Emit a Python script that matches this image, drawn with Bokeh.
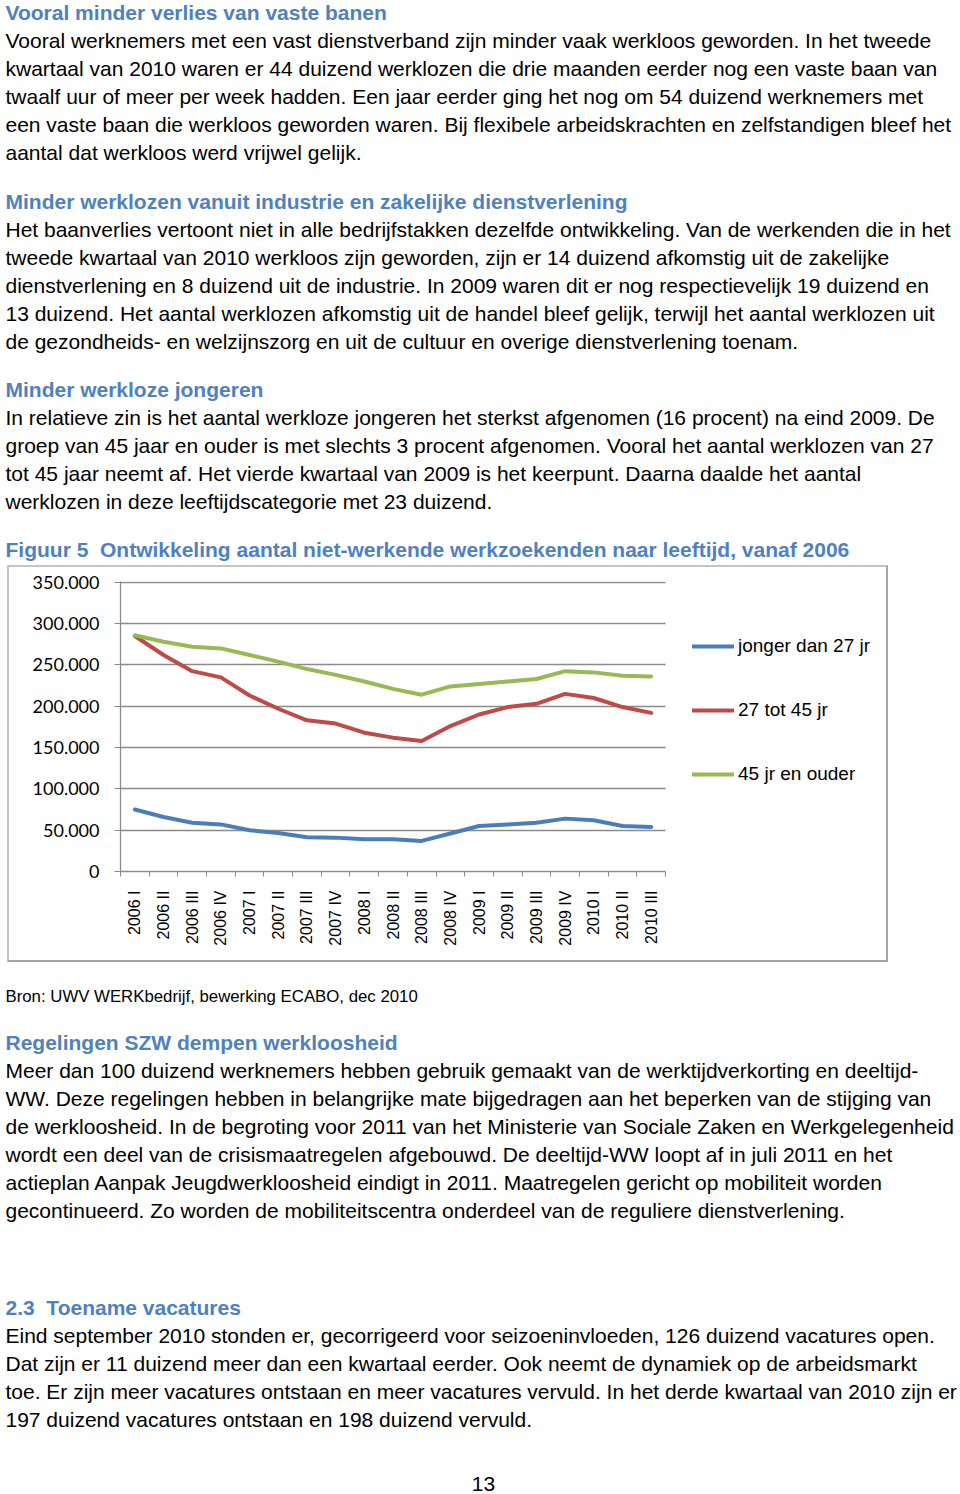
import math
from bokeh.plotting import figure
from bokeh.models import Range1d, FixedTicker, Legend, ColumnDataSource
from bokeh.layouts import column
from bokeh.core.properties import value
from bokeh.embed import file_html
from bokeh.resources import INLINE

# ---------------- chart data ----------------
quarters = ["2006 I", "2006 II", "2006 III", "2006 IV",
            "2007 I", "2007 II", "2007 III", "2007 IV",
            "2008 I", "2008 II", "2008 III", "2008 IV",
            "2009 I", "2009 II", "2009 III", "2009 IV",
            "2010 I", "2010 II", "2010 III"]
jonger_dan_27 = [75000, 66000, 59000, 57000, 50000, 46500, 41500, 41000, 39000,
                 39000, 37000, 46000, 55000, 57000, 59000, 64000, 62000, 55000, 54000]
van_27_tot_45 = [285000, 262000, 242500, 235000, 213000, 197000, 183000, 179000, 168000,
                 162000, 158000, 176000, 190000, 199000, 203000, 215000, 210000, 199000, 192000]
vanaf_45 = [286000, 278000, 272000, 270000, 262000, 254000, 245000, 238000, 230000,
            221000, 214000, 224000, 227000, 230000, 233000, 242500, 241000, 237000, 236000]
series_names = ["jonger dan 27 jr", "27 tot 45 jr", "45 jr en ouder"]
series_colors = ["#4A7EBB", "#BE4B48", "#98B954"]
y_ticks = [0, 50000, 100000, 150000, 200000, 250000, 300000, 350000]

# ---------------- page text ----------------
BLUE = "#4F81BD"
top_text = [
    ("h", 12, "Vooral minder verlies van vaste banen"),
    ("b", 40, "Vooral werknemers met een vast dienstverband zijn minder vaak werkloos geworden. In het tweede"),
    ("b", 68, "kwartaal van 2010 waren er 44 duizend werklozen die drie maanden eerder nog een vaste baan van"),
    ("b", 96, "twaalf uur of meer per week hadden. Een jaar eerder ging het nog om 54 duizend werknemers met"),
    ("b", 124, "een vaste baan die werkloos geworden waren. Bij flexibele arbeidskrachten en zelfstandigen bleef het"),
    ("b", 152, "aantal dat werkloos werd vrijwel gelijk."),
    ("h", 201, "Minder werklozen vanuit industrie en zakelijke dienstverlening"),
    ("b", 229, "Het baanverlies vertoont niet in alle bedrijfstakken dezelfde ontwikkeling. Van de werkenden die in het"),
    ("b", 257, "tweede kwartaal van 2010 werkloos zijn geworden, zijn er 14 duizend afkomstig uit de zakelijke"),
    ("b", 285, "dienstverlening en 8 duizend uit de industrie. In 2009 waren dit er nog respectievelijk 19 duizend en"),
    ("b", 313, "13 duizend. Het aantal werklozen afkomstig uit de handel bleef gelijk, terwijl het aantal werklozen uit"),
    ("b", 341, "de gezondheids- en welzijnszorg en uit de cultuur en overige dienstverlening toenam."),
    ("h", 389, "Minder werkloze jongeren"),
    ("b", 417, "In relatieve zin is het aantal werkloze jongeren het sterkst afgenomen (16 procent) na eind 2009. De"),
    ("b", 445, "groep van 45 jaar en ouder is met slechts 3 procent afgenomen. Vooral het aantal werklozen van 27"),
    ("b", 473, "tot 45 jaar neemt af. Het vierde kwartaal van 2009 is het keerpunt. Daarna daalde het aantal"),
    ("b", 501, "werklozen in deze leeftijdscategorie met 23 duizend."),
    ("h", 549, "Figuur 5\u00a0 Ontwikkeling aantal niet-werkende werkzoekenden naar leeftijd, vanaf 2006"),
]
bottom_text = [
    ("s", 996, "Bron: UWV WERKbedrijf, bewerking ECABO, dec 2010"),
    ("h", 1042, "Regelingen SZW dempen werkloosheid"),
    ("b", 1070, "Meer dan 100 duizend werknemers hebben gebruik gemaakt van de werktijdverkorting en deeltijd-"),
    ("b", 1098, "WW. Deze regelingen hebben in belangrijke mate bijgedragen aan het beperken van de stijging van"),
    ("b", 1126, "de werkloosheid. In de begroting voor 2011 van het Ministerie van Sociale Zaken en Werkgelegenheid"),
    ("b", 1154, "wordt een deel van de crisismaatregelen afgebouwd. De deeltijd-WW loopt af in juli 2011 en het"),
    ("b", 1182, "actieplan Aanpak Jeugdwerkloosheid eindigt in 2011. Maatregelen gericht op mobiliteit worden"),
    ("b", 1210, "gecontinueerd. Zo worden de mobiliteitscentra onderdeel van de reguliere dienstverlening."),
    ("h", 1307, "2.3\u00a0 Toename vacatures"),
    ("b", 1335, "Eind september 2010 stonden er, gecorrigeerd voor seizoeninvloeden, 126 duizend vacatures open."),
    ("b", 1363, "Dat zijn er 11 duizend meer dan een kwartaal eerder. Ook neemt de dynamiek op de arbeidsmarkt"),
    ("b", 1391, "toe. Er zijn meer vacatures ontstaan en meer vacatures vervuld. In het derde kwartaal van 2010 zijn er"),
    ("b", 1419, "197 duizend vacatures ontstaan en 198 duizend vervuld."),
]
page_number = "13"

FONT = "Liberation Sans"
STYLES = {
    "h": dict(text_color=BLUE, text_font_style="bold", text_font_size="21px"),
    "b": dict(text_color="#000000", text_font_style="normal", text_font_size="21px"),
    "s": dict(text_color="#000000", text_font_style="normal", text_font_size="16.8px"),
}
PAGE_W = 958


def text_page(y0, y1, rows, extra=None):
    p = figure(width=PAGE_W, height=y1 - y0, x_range=Range1d(0, PAGE_W), y_range=Range1d(y1, y0),
               x_axis_type=None, y_axis_type=None, output_backend="svg",
               toolbar_location=None, sizing_mode="fixed", frame_align=False,
               min_border_left=0, min_border_right=0, min_border_top=0, min_border_bottom=0)
    p.outline_line_color = None
    p.grid.visible = False
    for key, st in STYLES.items():
        sel = [r for r in rows if r[0] == key]
        if not sel:
            continue
        src = ColumnDataSource(dict(x=[5] * len(sel), y=[r[1] for r in sel], t=[r[2] for r in sel]))
        p.text(x="x", y="y", text="t", source=src, text_baseline="middle", text_align="left",
               text_font=value(FONT), **st)
    if extra:
        extra(p)
    return p


top = text_page(0, 565, top_text)


def add_page_number(p):
    p.text(x=[483], y=[1483], text=[page_number], text_baseline="middle", text_align="center",
           text_font=value(FONT), text_font_size="21px", text_color="#000000")


# ---------------- chart ----------------
GRAY = "#8A8A8A"
idx = list(range(len(quarters)))
n = len(quarters)
CHART_W, CHART_H = 881, 397
BORDER_L = 111
PLOT_W = 545                       # width of the category area (px)
frame_w = CHART_W - BORDER_L
x_end = -0.5 + n * frame_w / PLOT_W  # frame extends to the right to hold the legend

c = figure(width=CHART_W, height=CHART_H, x_range=Range1d(-0.5, x_end),
           y_range=Range1d(0, 351000), output_backend="svg", toolbar_location=None,
           sizing_mode="fixed", frame_align=False, margin=(0, 0, 0, 7),
           min_border_left=BORDER_L, min_border_right=0, min_border_top=14, min_border_bottom=93)
c.styles = {"border-style": "solid", "border-width": "2px",
            "border-color": "#C4C4C4 #A6A6A6 #A6A6A6 #C4C4C4"}
c.outline_line_color = None
c.background_fill_color = "white"
c.border_fill_color = "white"

renderers = []
for vals, col in zip([jonger_dan_27, van_27_tot_45, vanaf_45], series_colors):
    r = c.line(idx, vals, line_color=col, line_width=4, line_join="round", line_cap="round")
    renderers.append(r)

c.xgrid.visible = False
g = c.ygrid[0]
g.ticker = FixedTicker(ticks=y_ticks)
g.grid_line_color = GRAY
g.grid_line_width = 1.3
if "cross_bounds" in g.properties():
    g.cross_bounds = (-0.5, n - 0.5)
else:
    g.visible = False
    c.segment(x0=[-0.5] * len(y_ticks), x1=[n - 0.5] * len(y_ticks), y0=y_ticks, y1=y_ticks,
              line_color=GRAY, line_width=1.3, level="underlay")

c.yaxis.ticker = FixedTicker(ticks=y_ticks)
c.yaxis.major_label_overrides = {t: ("{:,}".format(t).replace(",", ".")) for t in y_ticks}
c.yaxis.axis_line_color = GRAY
c.yaxis.axis_line_width = 1.3
c.yaxis.major_tick_line_color = GRAY
c.yaxis.major_tick_out = 6
c.yaxis.major_tick_in = 0
c.yaxis.minor_tick_line_color = None
c.yaxis.major_label_standoff = 15
c.yaxis.major_label_text_font = "Lato"
c.yaxis.major_label_text_font_size = "18px"
c.yaxis.major_label_text_color = "#000000"

c.xaxis.bounds = (-0.5, n - 0.5)
c.xaxis.ticker = FixedTicker(ticks=idx, minor_ticks=[i - 0.5 for i in range(n + 1)])
c.xaxis.major_label_overrides = {i: q for i, q in zip(idx, quarters)}
c.xaxis.major_label_orientation = math.pi / 2
c.xaxis.major_tick_line_color = None
c.xaxis.major_tick_out = 0
c.xaxis.major_tick_in = 0
c.xaxis.minor_tick_line_color = GRAY
c.xaxis.minor_tick_out = 5
c.xaxis.minor_tick_in = 0
c.xaxis.axis_line_color = GRAY
c.xaxis.axis_line_width = 1.3
c.xaxis.major_label_standoff = 14
c.xaxis.major_label_text_font = FONT
c.xaxis.major_label_text_font_size = "16px"
c.xaxis.major_label_text_color = "#000000"

legend = Legend(items=[(nm, [r]) for nm, r in zip(series_names, renderers)],
                location=(PLOT_W + 27, 86))
legend.label_text_font = FONT
legend.label_text_font_size = "19px"
legend.label_text_color = "#000000"
legend.glyph_width = 42
legend.glyph_height = 22
legend.label_height = 22
legend.spacing = 42
legend.label_standoff = 4
legend.padding = 0
legend.margin = 0
legend.border_line_color = None
legend.background_fill_alpha = 0
c.add_layout(legend, "center")

bottom = text_page(962, 1494, bottom_text, extra=add_page_number)

layout = column(top, c, bottom, spacing=0)
open("out.html", "w").write(file_html(layout, INLINE))
